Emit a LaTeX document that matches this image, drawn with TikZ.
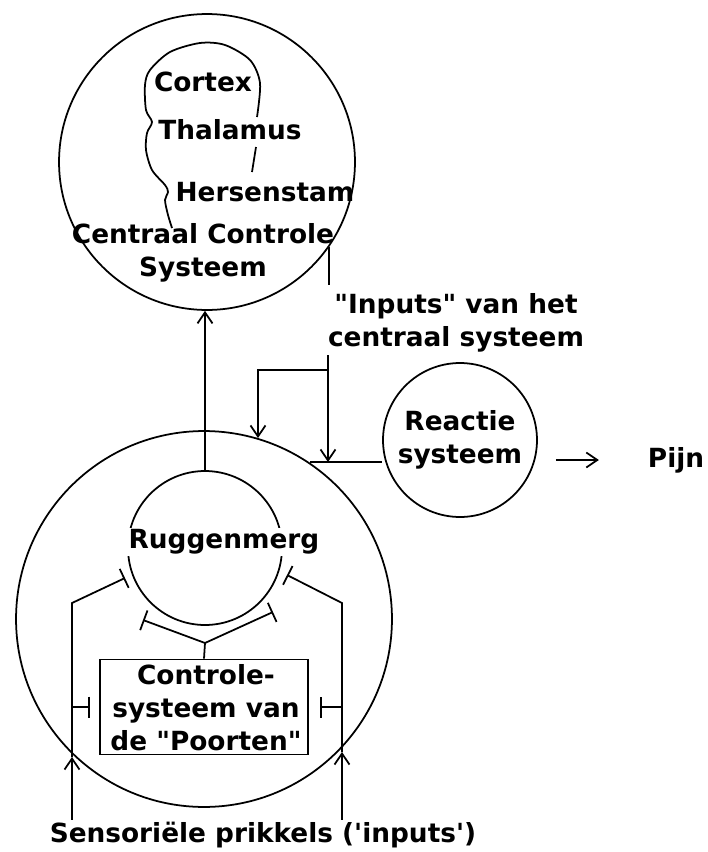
\documentclass[tikz,border=0pt]{standalone}
\usepackage{fontspec}
\setmainfont{DejaVu Sans}[Ligatures=TeXOff]
\usetikzlibrary{arrows.meta,positioning}
\tikzstyle{organ} = [circle, draw=black, line width=1pt, inner sep=0pt]
\tikzstyle{txt} = [font=\bfseries\fontsize{15}{18.7}\selectfont, align=center, inner sep=1pt]
\tikzstyle{gatebox} = [rectangle, draw=black, line width=1pt, minimum width=4.16cm, minimum height=1.9cm]
\tikzstyle{arrow} = [line width=1pt,-{Straight Barb[length=0.22cm,width=0.3cm]}]
\tikzstyle{inhibit} = [line width=1pt,-{Bar[width=0.42cm]}]
\tikzstyle{wire} = [line width=1pt]

\begin{document}
\begin{tikzpicture}[x=0.02cm, y=-0.02cm]
  \useasboundingbox (0,0) rectangle (707,852);
  % circles and box
  \node (ccs) [organ, minimum size=5.92cm] at (207,162) {};
  \node (body) [organ, minimum size=7.52cm] at (204,619) {};
  \node (rugg) [organ, minimum size=3.08cm] at (205,548) {};
  \node (react) [organ, txt, minimum size=3.08cm] at (460,440) {Reactie\\systeem};
  \node (gate) [gatebox] at (204,707) {};

  % brain outline
  \draw [wire] plot[smooth] coordinates {(257,117) (260,83) (250,60) (225,45) (200,43)
    (170,52) (150,70) (145,85) (146,110) (152,122) (147,133) (146,150) (152,170)
    (165,185) (168,192) (165,200) (168,215) (172,228)};
  \draw [wire] (256,147) -- (252,172);

  % texts
  \node (cortex) [txt] at (203,82) {Cortex};
  \node (thalamus) [txt] at (230,130) {Thalamus};
  \node (hersen) [txt] at (265,192) {Hersenstam};
  \node (ccstxt) [txt] at (203,253) {Centraal Controle\\Systeem};
  \node (inputs) [txt] at (456,323) {"Inputs" van het\\centraal systeem};
  \node (pijn) [txt] at (676,460) {Pijn};
  \node (ruggtxt) [txt, fill=white] at (224,542) {Ruggenmerg};
  \node (gatetxt) [txt] at (206,708) {Controle-\\systeem van\\de "Poorten"};
  \node (sens) [txt] at (263,835) {Sensoriële prikkels ('inputs')};

  % central inputs
  \coordinate (in1) at (328,355);
  \coordinate (split) at (328,370);
  \coordinate (hit) at (258,438);
  \coordinate (join) at (328,462);
  \coordinate (edge) at (310,462);
  \draw [wire] (ccs.-35) -- ++(0,38);
  \draw [arrow] (in1) -- (join);
  \draw [arrow] (split) -| (hit);
  \draw [wire] (edge) -- (react.west |- edge);
  \draw [arrow] (react.east |- pijn) ++(18,0) -- ++(43,0);
  \draw [arrow] (rugg.north) -- (rugg.north |- ccs.south);

  % sensory inputs
  \coordinate (l1) at (72,757);
  \coordinate (l2) at (72,603);
  \coordinate (l3) at (125,578);
  \coordinate (lg) at (90,707);
  \coordinate (r1) at (342,752);
  \coordinate (r2) at (342,603);
  \coordinate (r3) at (287,575);
  \coordinate (rg) at (320,707);
  \draw [arrow] (sens.north -| l1) -- (l1);
  \draw [inhibit] (l1) -- (l2) -- (l3);
  \draw [inhibit] (l2 |- lg) -- (lg);
  \draw [arrow] (sens.north -| r1) -- (r1);
  \draw [inhibit] (r1) -- (r2) -- (r3);
  \draw [inhibit] (r2 |- rg) -- (rg);

  % gate control
  \coordinate (fork) at (205,643);
  \coordinate (gl) at (143,620);
  \coordinate (gr) at (273,612);
  \draw [wire] (gate.north) -- (fork);
  \draw [inhibit] (fork) -- (gl);
  \draw [inhibit] (fork) -- (gr);
\end{tikzpicture}
\end{document}
